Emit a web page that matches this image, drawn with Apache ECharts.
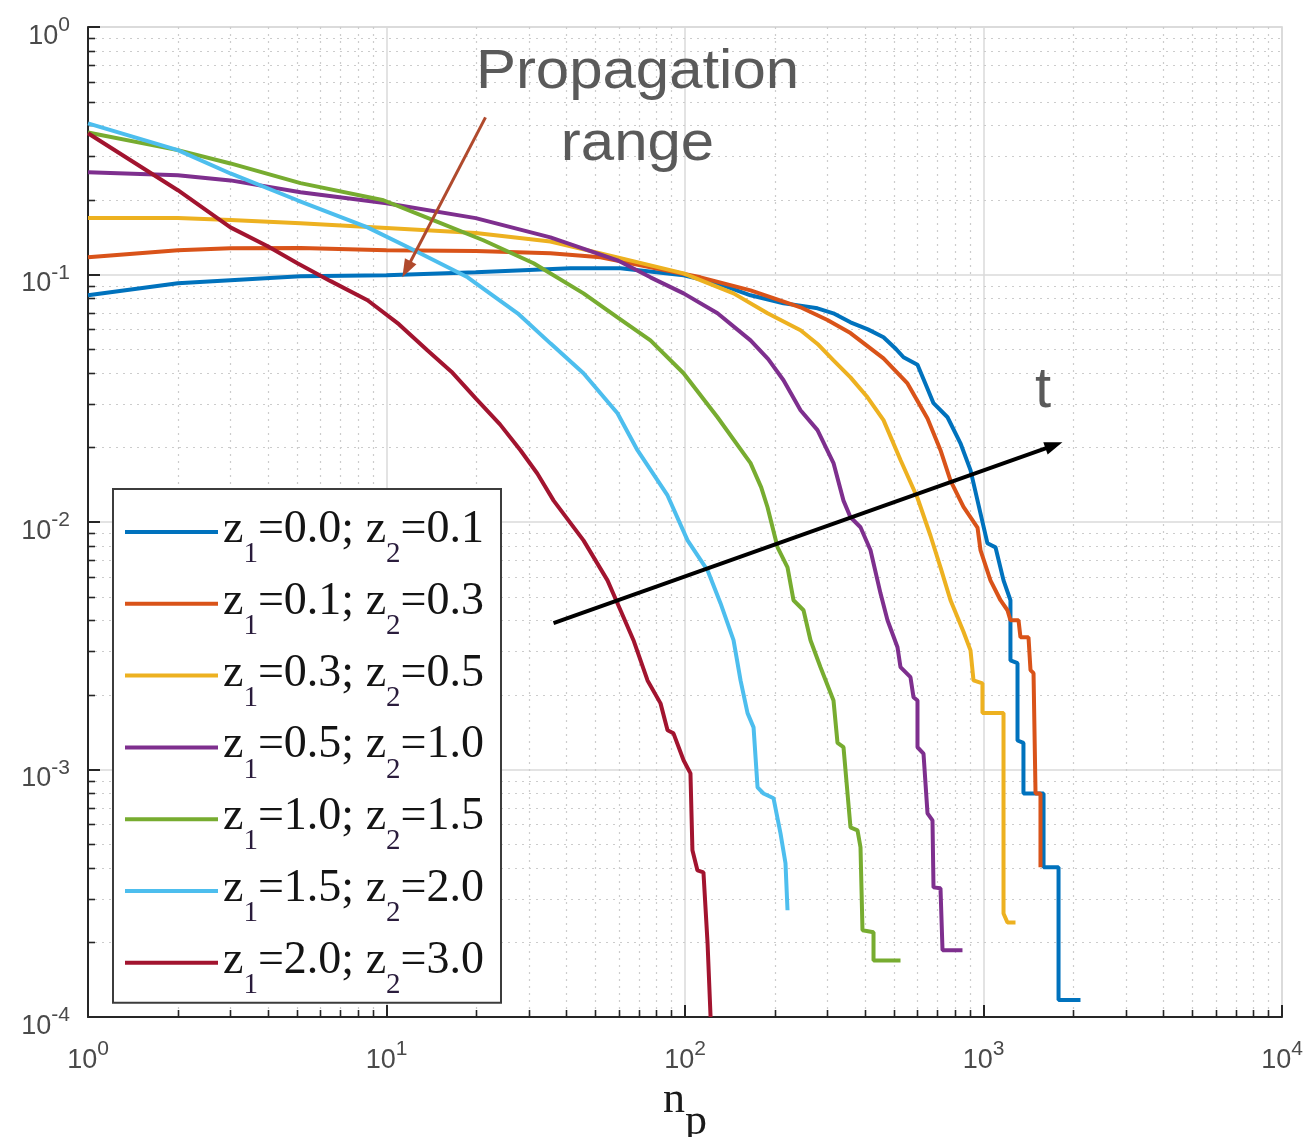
<!DOCTYPE html>
<html>
<head>
<meta charset="utf-8">
<title>n_p distribution</title>
<script src="https://cdn.jsdelivr.net/npm/echarts@6.0.0/dist/echarts.min.js"></script>
<style>
  html, body { margin: 0; padding: 0; background: #ffffff; }
  #chart { width: 1303px; height: 1137px; }
</style>
</head>
<body>
<div id="chart"></div>
<script>
// Depth pairs, one curve per pair
const z1Values = ['0.0', '0.1', '0.3', '0.5', '1.0', '1.5', '2.0'];
const z2Values = ['0.1', '0.3', '0.5', '1.0', '1.5', '2.0', '3.0'];
const lineColors = ['#0072BD', '#D95319', '#EDB120', '#7E2F8E', '#77AC30', '#4DBEEE', '#A2142F'];

// Axis decades (exponents of 10)
const xTickExponents = [0, 1, 2, 3, 4];
const yTickExponents = [-4, -3, -2, -1, 0];

// Curves: [n_p, probability]
const curveA = [[1,0.0824],[2,0.0921],[5.15,0.0983],[10,0.0993],[19.9,0.102],[41.3,0.106],[60.8,0.106],[98.9,0.0993],[128.5,0.0921],[165.8,0.0824],[213.8,0.0765],[250,0.0745],[277.9,0.073],[314,0.0697],[358.4,0.0641],[410,0.060],[462.4,0.0558],[505,0.0505],[539.5,0.0463],[601,0.0432],[640,0.036],[680,0.0302],[757.6,0.0265],[837.3,0.0208],[904.6,0.0162],[977,0.01084],[1031,0.0082],[1097,0.0079],[1167,0.00581],[1231,0.00483],[1231,0.00276],[1300,0.00269],[1300,0.00131],[1361,0.00128],[1361,0.0008],[1589,0.0008],[1589,0.000403],[1784,0.000403],[1784,0.000117],[2113,0.000117]];
const curveB = [[1,0.1173],[2,0.1253],[3,0.1276],[5.15,0.128],[10,0.1253],[19.9,0.1245],[35.4,0.1218],[52.1,0.1173],[76.6,0.1069],[112.7,0.0974],[165.8,0.0863],[243.8,0.0737],[300,0.0655],[358.4,0.058],[462.4,0.0458],[556.4,0.0363],[649.3,0.0262],[717.7,0.0195],[775.3,0.0147],[857,0.0115],[954.8,0.0095],[977,0.0077],[1055,0.00581],[1140,0.00483],[1203,0.0044],[1231,0.00401],[1310,0.00401],[1330,0.00342],[1415,0.00342],[1437,0.00252],[1471,0.00245],[1494,0.0008],[1552,0.0008],[1552,0.000403]];
const curveC = [[1,0.169],[2,0.169],[3,0.166],[5.15,0.161],[10,0.154],[19.9,0.147],[35.4,0.136],[59.4,0.1173],[98.9,0.1011],[145.4,0.0839],[189,0.0697],[243.8,0.0595],[280,0.052],[314.4,0.045],[358.4,0.0384],[408.7,0.0319],[462.4,0.0258],[527.2,0.0178],[601,0.0125],[664.4,0.0088],[717.7,0.00656],[775.3,0.00483],[857,0.0036],[904.6,0.00303],[925.8,0.00229],[992,0.00223],[992,0.00169],[1167,0.00169],[1167,0.000262],[1203,0.000241],[1280,0.000241]];
const curveD = [[1,0.259],[2,0.252],[3,0.24],[5.15,0.215],[10,0.194],[19.9,0.169],[35.4,0.1413],[59.4,0.1141],[76.6,0.0974],[98.9,0.0839],[128.5,0.0697],[165.8,0.0542],[190,0.0455],[213.8,0.0374],[243.8,0.0283],[277.9,0.0235],[314.4,0.0173],[339.6,0.0122],[358.4,0.01045],[387.2,0.00952],[418.3,0.00769],[451.8,0.00515],[476.9,0.00401],[515.1,0.00312],[527.2,0.00259],[569.3,0.00236],[582.7,0.00196],[601,0.0019],[601,0.00123],[629.5,0.00116],[649.3,0.000665],[674.7,0.000623],[680,0.000334],[717.7,0.000331],[729,0.000186],[850.3,0.000186]];
const curveE = [[1,0.375],[2,0.318],[3,0.281],[5.15,0.234],[9.77,0.1995],[14.4,0.1656],[21.1,0.1375],[31.1,0.111],[45.7,0.0839],[59.4,0.0671],[76.6,0.0542],[98.9,0.0399],[128.5,0.0265],[165.8,0.0173],[180,0.0138],[189,0.01147],[204.2,0.0079],[220.5,0.00656],[230.9,0.00483],[249.5,0.0044],[263.3,0.00333],[284.4,0.00259],[314.4,0.0019],[324.3,0.00128],[339.6,0.00123],[358.4,0.000584],[378.4,0.000568],[387.2,0.000485],[393.2,0.000224],[428.1,0.00022],[428.1,0.000169],[527.2,0.000169]];
const curveF = [[1,0.408],[2,0.318],[3,0.256],[5.03,0.1995],[8.64,0.155],[12,0.1276],[18.7,0.0974],[27.5,0.0697],[35.4,0.0527],[45.7,0.0399],[59.4,0.0275],[69.3,0.0195],[87.4,0.0128],[102,0.00843],[119,0.00638],[131.5,0.0047],[145.4,0.00333],[153.5,0.00229],[162,0.00169],[169.7,0.00148],[175,0.000847],[183.2,0.0008],[198,0.000765],[208.9,0.000552],[217.1,0.000418],[220.5,0.00027]];
const curveG = [[1,0.372],[2,0.219],[3,0.155],[4,0.13],[5.03,0.111],[6.5,0.094],[8.64,0.0787],[11,0.063],[13.7,0.0494],[16.5,0.0405],[19.9,0.0316],[24,0.0248],[28.1,0.0195],[32,0.0157],[36.3,0.0122],[45.7,0.00843],[55,0.00581],[60.8,0.0044],[67.2,0.00333],[74.9,0.00229],[82.8,0.00185],[87.4,0.00144],[91.5,0.0014],[98.9,0.00109],[104.3,0.000965],[105.9,0.000472],[110.1,0.000391],[115.3,0.000384],[119,0.000199],[121.8,0.0001]];
const curves = [curveA, curveB, curveC, curveD, curveE, curveF, curveG];

// Annotation arrows in data coordinates: [start, end]
const rangeArrow = [[21.46, 0.4316], [11.67, 0.105]];
const timeArrow = [[36.27, 0.0039], [1722, 0.0204]];

const xMin = Math.pow(10, xTickExponents[0]);
const xMax = Math.pow(10, xTickExponents[xTickExponents.length - 1]);
const yMin = Math.pow(10, yTickExponents[0]);
const yMax = Math.pow(10, yTickExponents[yTickExponents.length - 1]);

const seriesNames = z1Values.map((z1, i) => 'z\u2081=' + z1 + '; z\u2082=' + z2Values[i]);

// Minor grid positions (2..9 within each decade)
const minorMultipliers = [2, 3, 4, 5, 6, 7, 8, 9];
const minorGrid = [];
for (let i = 0; i < xTickExponents.length - 1; i++) {
  minorMultipliers.forEach(k => minorGrid.push([Number((k * Math.pow(10, xTickExponents[i])).toPrecision(6)), yMin, 0]));
}
for (let i = 0; i < yTickExponents.length - 1; i++) {
  minorMultipliers.forEach(k => minorGrid.push([xMin, Number((k * Math.pow(10, yTickExponents[i])).toPrecision(6)), 1]));
}

const AXIS_DARK = '#262626';
const LABEL_GREY = '#4a4a4a';
const SANS = '"Liberation Sans", Arial, sans-serif';
const SERIF = '"Liberation Serif", "Times New Roman", serif';
const STRUT = '{h|\u200b}';

// "10" with a raised exponent; the zero-width strut fixes the line box height
function powerLabel(value) {
  const e = Math.round(Math.log10(value));
  return STRUT + '{b|10}{e|' + e + '}';
}
const powerRich = {
  h: { fontSize: 10, lineHeight: 50 },
  b: { fontFamily: SANS, fontSize: 27, lineHeight: 27, color: LABEL_GREY, verticalAlign: 'top', padding: [21, 0, 0, 0] },
  e: { fontFamily: SANS, fontSize: 21, lineHeight: 21, color: LABEL_GREY, verticalAlign: 'top', padding: [13, 0, 0, 0] }
};

function renderMinor(params, api) {
  const cs = params.coordSys;
  const flag = api.value(2);
  const dotted = { stroke: '#cccccc', lineWidth: 1.2, lineDash: [2, 5] };
  const tick = { stroke: AXIS_DARK, lineWidth: 1.6 };
  if (flag === 0) {
    const px = Math.round(api.coord([api.value(0), yMin])[0]) + 0.5;
    return {
      type: 'group', children: [
        { type: 'line', shape: { x1: px, y1: cs.y, x2: px, y2: cs.y + cs.height }, style: dotted },
        { type: 'line', shape: { x1: px, y1: cs.y + cs.height, x2: px, y2: cs.y + cs.height - 7 }, style: tick }
      ]
    };
  }
  const py = Math.round(api.coord([xMin, api.value(1)])[1]) + 0.5;
  return {
    type: 'group', children: [
      { type: 'line', shape: { x1: cs.x, y1: py, x2: cs.x + cs.width, y2: py }, style: dotted },
      { type: 'line', shape: { x1: cs.x, y1: py, x2: cs.x + 7, y2: py }, style: tick }
    ]
  };
}

const chart = echarts.init(document.getElementById('chart'), null, { renderer: 'canvas' });

const lineSeries = curves.map((data, i) => ({
  name: seriesNames[i],
  type: 'line',
  data: data,
  showSymbol: false,
  symbol: 'none',
  smooth: false,
  clip: true,
  z: 3,
  color: lineColors[i],
  lineStyle: { color: lineColors[i], width: 4 },
  emphasis: { disabled: true }
}));

chart.setOption({
  animation: false,
  backgroundColor: '#ffffff',
  grid: {
    left: 88, right: 21, top: 27, bottom: 120,
    containLabel: false, outerBoundsMode: 'none',
    show: true, borderColor: '#d2d2d2', borderWidth: 1.5, backgroundColor: 'transparent'
  },
  xAxis: {
    type: 'log', logBase: 10, min: xMin, max: xMax,
    axisLine: { show: true, onZero: false, lineStyle: { color: AXIS_DARK, width: 2 } },
    axisTick: { show: true, inside: true, length: 12, lineStyle: { color: AXIS_DARK, width: 2 } },
    axisLabel: { formatter: powerLabel, rich: powerRich, margin: 9 },
    splitLine: { show: true, lineStyle: { color: '#dadada', width: 1.5 } },
    minorTick: { show: false }, minorSplitLine: { show: false },
    name: STRUT + '{n|n}{p|p}',
    nameLocation: 'middle',
    nameGap: 32,
    nameTextStyle: {
      rich: {
        h: { fontSize: 10, lineHeight: 70 },
        n: { fontFamily: SERIF, fontSize: 44, lineHeight: 44, color: '#1a1a1a', verticalAlign: 'top', padding: [0, 0, 0, 0] },
        p: { fontFamily: SERIF, fontSize: 44, lineHeight: 44, color: '#1a1a1a', verticalAlign: 'top', padding: [22, 0, 0, 0] }
      }
    }
  },
  yAxis: {
    type: 'log', logBase: 10, min: yMin, max: yMax,
    axisLine: { show: true, onZero: false, lineStyle: { color: AXIS_DARK, width: 2 } },
    axisTick: { show: true, inside: true, length: 12, lineStyle: { color: AXIS_DARK, width: 2 } },
    axisLabel: { formatter: powerLabel, rich: powerRich, margin: 18 },
    splitLine: { show: true, lineStyle: { color: '#dadada', width: 1.5 } },
    minorTick: { show: false }, minorSplitLine: { show: false }
  },
  legend: {
    data: seriesNames,
    orient: 'vertical',
    left: 113, top: 489,
    padding: [6, 17, 3, 12],
    itemWidth: 93, itemHeight: 4, itemGap: -2.2,
    icon: 'rect',
    selectedMode: false,
    backgroundColor: '#ffffff',
    borderColor: '#3c3c3c', borderWidth: 2, borderRadius: 0,
    formatter: function (name) {
      const i = seriesNames.indexOf(name);
      return STRUT + '{a|z}{s|1}{a|=' + z1Values[i] + '; z}{s|2}{a|=' + z2Values[i] + '}';
    },
    textStyle: {
      rich: {
        h: { fontSize: 10, lineHeight: 74 },
        a: { fontFamily: SERIF, fontSize: 46, lineHeight: 46, color: '#141414', verticalAlign: 'top', padding: [12, 0, 0, 0] },
        s: { fontFamily: SERIF, fontSize: 29, lineHeight: 29, color: '#2a1c3c', verticalAlign: 'top', padding: [45, 0, 0, 0] }
      }
    }
  },
  graphic: [
    { type: 'text', x: 637.5, y: 72.5, scaleX: 1.07, z: 10, silent: true,
      style: { text: 'Propagation', fontFamily: SANS, fontSize: 56, fill: '#5a5a5a', textAlign: 'center', textVerticalAlign: 'middle' } },
    { type: 'text', x: 637.5, y: 144.5, scaleX: 1.07, z: 10, silent: true,
      style: { text: 'range', fontFamily: SANS, fontSize: 56, fill: '#5a5a5a', textAlign: 'center', textVerticalAlign: 'middle' } },
    { type: 'text', x: 1043, y: 391, z: 10, silent: true,
      style: { text: 't', fontFamily: SANS, fontSize: 58, fill: '#5a5a5a', textAlign: 'center', textVerticalAlign: 'middle' } }
  ],
  series: [
    {
      name: 'minor-grid',
      type: 'custom',
      renderItem: renderMinor,
      data: minorGrid,
      encode: { x: 0, y: 1 },
      silent: true,
      clip: false,
      z: 1
    },
    ...lineSeries,
    {
      name: 'arrows',
      type: 'line',
      data: [],
      z: 5,
      markLine: {
        silent: true,
        animation: false,
        symbol: ['none', 'triangle'],
        label: { show: false },
        emphasis: { disabled: true },
        data: [
          [
            { coord: rangeArrow[0], symbol: 'none', lineStyle: { color: '#B04A2D', width: 3, type: 'solid' } },
            { coord: rangeArrow[1], symbol: 'triangle', symbolSize: [13, 18] }
          ],
          [
            { coord: timeArrow[0], symbol: 'none', lineStyle: { color: '#000000', width: 4, type: 'solid' } },
            { coord: timeArrow[1], symbol: 'triangle', symbolSize: [13, 18] }
          ]
        ]
      }
    }
  ]
});
</script>
</body>
</html>
